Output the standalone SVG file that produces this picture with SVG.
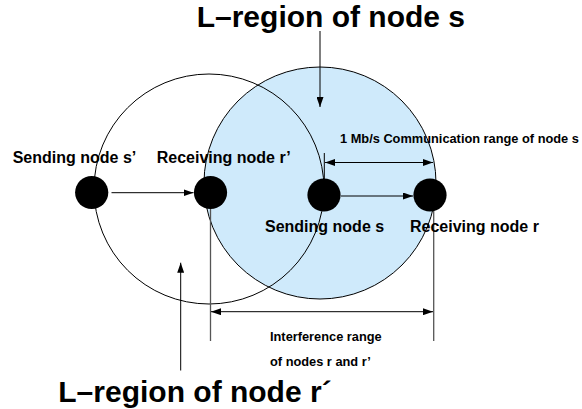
<svg xmlns="http://www.w3.org/2000/svg" width="582" height="409" viewBox="0 0 582 409">
<style>
text{font-family:"Liberation Sans",Arial,sans-serif;font-weight:bold;fill:#000}
.t{font-size:30px}
.l{font-size:16px}
.s{font-size:12.8px}
.ln{stroke:#000;stroke-width:1;fill:none}
.g{stroke:#555;stroke-width:1.3;fill:none}
.node{fill:#000}
</style>
<defs>
<marker id="ah" viewBox="0 0 10 7" refX="10" refY="3.5" markerWidth="10" markerHeight="7" markerUnits="userSpaceOnUse" orient="auto-start-reverse">
<path d="M0,0 L10,3.5 L0,7 Z" fill="#000"/>
</marker>
</defs>
<g id="regions">
<circle id="region-s" cx="320" cy="183" r="116" fill="#cfeafb" stroke="#000" stroke-width="1"/>
<circle id="region-r-prime" cx="209" cy="189" r="115" fill="none" stroke="#000" stroke-width="1"/>
</g>
<g id="connectors">
<line class="ln" x1="111.5" y1="192.7" x2="193.5" y2="192.7" marker-end="url(#ah)"/>
<line class="ln" x1="341" y1="196" x2="413" y2="196" marker-end="url(#ah)"/>
<line class="ln" x1="320" y1="31" x2="320" y2="107" marker-end="url(#ah)"/>
<line class="ln" x1="180.7" y1="370.5" x2="180.7" y2="262.7" marker-end="url(#ah)"/>
<line class="ln" x1="324.3" y1="153" x2="324.3" y2="180"/>
<line class="ln" x1="325" y1="162.5" x2="433" y2="162.5" marker-start="url(#ah)" marker-end="url(#ah)"/>
<line class="g" x1="210.5" y1="205" x2="210.5" y2="341"/>
<line class="g" x1="433.7" y1="208" x2="433.7" y2="341"/>
<line class="ln" x1="211" y1="311.7" x2="433" y2="311.7" marker-start="url(#ah)" marker-end="url(#ah)"/>
</g>
<g id="node-s-prime"><circle class="node" cx="91.7" cy="192.5" r="16.6"/><text class="l" x="12.7" y="163.3">Sending node s’</text></g>
<g id="node-r-prime"><circle class="node" cx="210.5" cy="192.5" r="16.6"/><text class="l" x="156.7" y="163">Receiving node r’</text></g>
<g id="node-s"><circle class="node" cx="324" cy="195" r="16.6"/><text class="l" x="265" y="231.7">Sending node s</text></g>
<g id="node-r"><circle class="node" cx="430" cy="195" r="16.6"/><text class="l" x="410" y="231.7">Receiving node r</text></g>
<g id="labels">
<text class="t" x="196.7" y="27">L–region of node s</text>
<text class="t" x="58.3" y="401.7">L–region of node r´</text>
<text class="s" x="340" y="142.7">1 Mb/s Communication range of node s</text>
<text class="s" x="270" y="341">Interference range</text>
<text class="s" x="270" y="365.7">of nodes r and r’</text>
</g>
</svg>
